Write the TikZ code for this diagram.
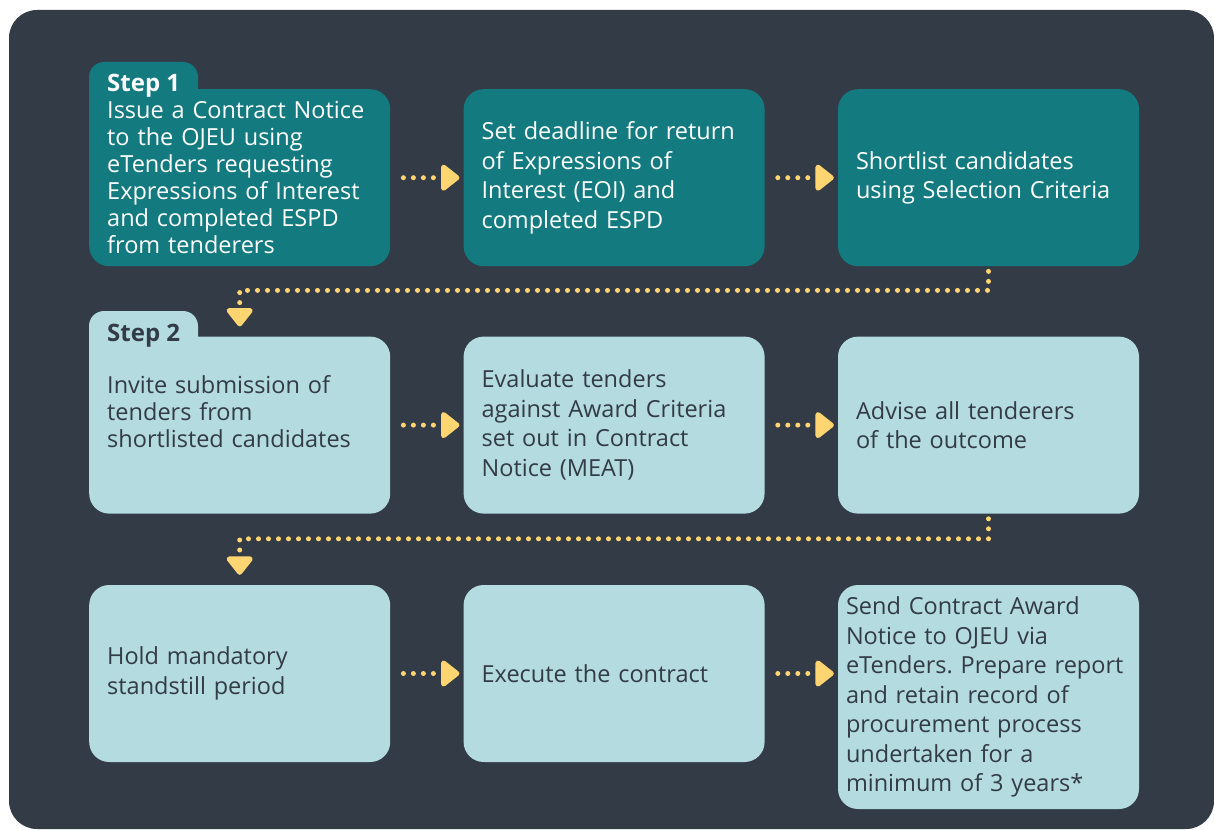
\documentclass[tikz,border=0pt]{standalone}
\usepackage{fontspec}
\setmainfont{Open Sans}
\frenchspacing
\usetikzlibrary{positioning, arrows.meta}
\definecolor{panelColor}{HTML}{323B46}
\definecolor{stepOneColor}{HTML}{137B80}
\definecolor{stepTwoColor}{HTML}{B4DBE0}
\definecolor{arrowColor}{HTML}{FFD571}
\tikzstyle{flowchart} = [x = 1pt, y = -1pt]
\tikzstyle{boxStyle} = [rounded corners = 20pt, minimum width = 301pt, minimum height = 177pt, text width = 265pt, inner xsep = 18pt, inner ysep = 0pt, align = left, font = \fontsize{23.5}{29.5}\selectfont]
\tikzstyle{stepOneBox} = [boxStyle, fill = stepOneColor, text = white]
\tikzstyle{stepTwoBox} = [boxStyle, fill = stepTwoColor, text = panelColor]
\tikzstyle{tightText} = [font = \fontsize{23.5}{27}\selectfont]
\tikzstyle{stepLabel} = [anchor = base west, inner sep = 0pt, font = \fontsize{24}{28}\selectfont\bfseries]
\tikzstyle{connector} = [arrowColor, line width = 5pt, line cap = round, dash pattern = on 0pt off 10pt, -{Triangle[length = 20pt, width = 30pt, round]}]
\newcommand{\stepTab}[3]{\fill [#3, rounded corners = 15pt] (#1, #2 + 60) -- (#1, #2) -- (#1 + 109, #2) -- (#1 + 109, #2 + 60);}

\begin{document}
\begin{tikzpicture}[flowchart]
\useasboundingbox (0,0) rectangle (1214,829);
\fill [panelColor, rounded corners = 28pt] (9,10) rectangle (1214,829);
% step 1
\stepTab{89}{62}{stepOneColor}
\node [stepOneBox, tightText, anchor = north west] (issue) at (89,89) {Issue a Contract Notice\\to the OJEU using\\eTenders requesting\\Expressions of Interest\\and completed ESPD\\from tenderers};
\node [stepOneBox, right = 73pt of issue] (deadline) {Set deadline for return\\of Expressions of\\Interest (EOI) and\\completed ESPD};
\node [stepOneBox, right = 73pt of deadline] (shortlist) {Shortlist candidates\\using Selection Criteria};
\node [stepLabel, text = white] (stepOne) at (107,92) {Step 1};
% step 2
\stepTab{89}{311}{stepTwoColor}
\node [stepTwoBox, tightText, below = 70pt of issue] (invite) {Invite submission of\\tenders from\\shortlisted candidates\\~};
\node [stepTwoBox, right = 73pt of invite] (evaluate) {Evaluate tenders\\against Award Criteria\\set out in Contract\\Notice (MEAT)};
\node [stepTwoBox, right = 73pt of evaluate] (advise) {Advise all tenderers\\of the outcome};
\node [stepLabel, text = panelColor] (stepTwo) at (107,341) {Step 2};
% last row
\node [stepTwoBox, below = 71pt of invite] (standstill) {Hold mandatory\\standstill period};
\node [stepTwoBox, right = 73pt of standstill] (execute) {Execute the contract};
\node [stepTwoBox, minimum height = 224pt, text width = 285pt, inner xsep = 8pt, anchor = north west] (award) at ([xshift = 73pt] execute.north east) {Send Contract Award\\Notice to OJEU via\\eTenders. Prepare report\\and retain record of\\procurement process\\undertaken for a\\minimum of 3 years*};
% connectors
\draw [connector, shorten < = 13pt, shorten > = 4pt] (issue) -- (deadline);
\draw [connector, shorten < = 13pt, shorten > = 4pt] (deadline) -- (shortlist);
\draw [connector, shorten < = 5pt, shorten > = 10pt] (shortlist.south) -- ++(0,24) -| (invite.north);
\draw [connector, shorten < = 13pt, shorten > = 4pt] (invite) -- (evaluate);
\draw [connector, shorten < = 13pt, shorten > = 4pt] (evaluate) -- (advise);
\draw [connector, shorten < = 5pt, shorten > = 10pt] (advise.south) -- ++(0,25) -| (standstill.north);
\draw [connector, shorten < = 13pt, shorten > = 4pt] (standstill) -- (execute);
\draw [connector, shorten < = 13pt, shorten > = 4pt] (execute) -- (execute -| award.west);
\end{tikzpicture}
\end{document}
